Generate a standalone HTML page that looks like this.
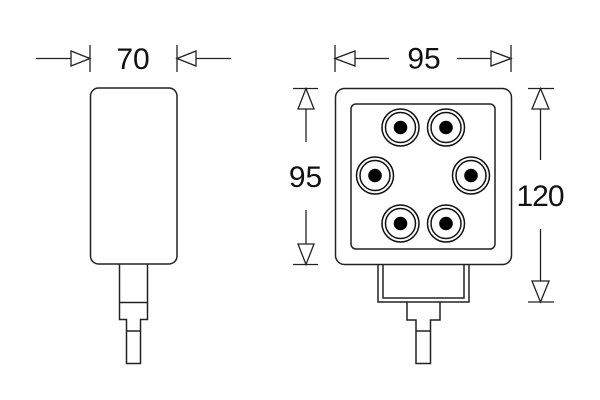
<!DOCTYPE html>
<html>
<head>
<meta charset="utf-8">
<style>
  html,body{margin:0;padding:0;background:#fff;}
  svg{display:block;}
  text{font-family:"Liberation Sans",sans-serif;font-size:30px;fill:#111;}
</style>
</head>
<body>
<svg width="600" height="400" viewBox="0 0 600 400" xmlns="http://www.w3.org/2000/svg">
  <g fill="none" stroke="#222" stroke-width="1.3">
    <!-- LEFT VIEW dimension -->
    <line x1="36" y1="58.5" x2="72" y2="58.5"/>
    <polygon points="71,51 71,66 90,58.5" fill="#fff"/>
    <line x1="90" y1="45" x2="90" y2="72"/>
    <line x1="177" y1="45" x2="177" y2="72"/>
    <polygon points="196,51 196,66 177,58.5" fill="#fff"/>
    <line x1="196" y1="58.5" x2="231" y2="58.5"/>
  </g>
  <text x="133" y="69" text-anchor="middle">70</text>

  <g fill="none" stroke="#222" stroke-width="1.5">
    <!-- left body -->
    <rect x="90.5" y="88" width="86.5" height="176" rx="8" ry="8"/>
    <!-- left stem -->
    <polyline points="119.5,264 119.5,319.5 126.5,319.5 126.5,363.5 140.5,363.5 140.5,319.5 147.5,319.5 147.5,264"/>
    <line x1="119.5" y1="302.5" x2="147.5" y2="302.5"/>
    <line x1="126.5" y1="331" x2="140.5" y2="331"/>
  </g>

  <!-- RIGHT VIEW -->
  <g fill="none" stroke="#222" stroke-width="1.3">
    <!-- top dim -->
    <line x1="335" y1="45" x2="335" y2="72"/>
    <polygon points="355,51 355,66 335,58.5" fill="#fff"/>
    <line x1="355" y1="58.5" x2="389" y2="58.5"/>
    <line x1="457" y1="58.5" x2="491" y2="58.5"/>
    <polygon points="491,51 491,66 511,58.5" fill="#fff"/>
    <line x1="511" y1="45" x2="511" y2="72"/>
    <!-- left vertical dim -->
    <line x1="293" y1="88.5" x2="318" y2="88.5"/>
    <polygon points="298,109 314,109 306,88.5" fill="#fff"/>
    <line x1="306" y1="109" x2="306" y2="142"/>
    <line x1="306" y1="210" x2="306" y2="244"/>
    <polygon points="298,244 314,244 306,264.5" fill="#fff"/>
    <line x1="293" y1="264.5" x2="318" y2="264.5"/>
    <!-- right vertical dim -->
    <line x1="528" y1="88.5" x2="554" y2="88.5"/>
    <polygon points="532,109 549,109 540.5,88.5" fill="#fff"/>
    <line x1="540.5" y1="109" x2="540.5" y2="160"/>
    <line x1="540.5" y1="229" x2="540.5" y2="281"/>
    <polygon points="532,281 549,281 540.5,302" fill="#fff"/>
    <line x1="528" y1="302" x2="554" y2="302"/>
  </g>
  <text x="424" y="68.5" text-anchor="middle">95</text>
  <text x="305.5" y="187" text-anchor="middle">95</text>
  <text x="540" y="206" text-anchor="middle" letter-spacing="-1">120</text>

  <g fill="none" stroke="#222" stroke-width="1.5">
    <rect x="335.5" y="88.5" width="176" height="176" rx="9" ry="9"/>
    <rect x="351" y="104" width="144" height="145" rx="5" ry="5"/>
    <!-- bracket -->
    <polyline points="378,265 378,302 469,302 469,265"/>
    <polyline points="383,265 383,298 464,298 464,265"/>
    <!-- stem -->
    <polyline points="407,302 407,320 416,320 416,363.5 430.5,363.5 430.5,320 440,320 440,302"/>
    <line x1="416" y1="331" x2="430.5" y2="331"/>
  </g>

  <!-- LEDs -->
  <g stroke="#111" stroke-width="1.5" fill="none">
    <g transform="translate(400.5,127.5)"><circle r="18.5"/><circle r="15"/><circle r="6.8" fill="#000" stroke="none"/></g>
    <g transform="translate(446,127.5)"><circle r="18.5"/><circle r="15"/><circle r="6.8" fill="#000" stroke="none"/></g>
    <g transform="translate(375,175.5)"><circle r="18.5"/><circle r="15"/><circle r="6.8" fill="#000" stroke="none"/></g>
    <g transform="translate(471,175.5)"><circle r="18.5"/><circle r="15"/><circle r="6.8" fill="#000" stroke="none"/></g>
    <g transform="translate(400.5,223.5)"><circle r="18.5"/><circle r="15"/><circle r="6.8" fill="#000" stroke="none"/></g>
    <g transform="translate(446,223.5)"><circle r="18.5"/><circle r="15"/><circle r="6.8" fill="#000" stroke="none"/></g>
  </g>
</svg>
</body>
</html>
